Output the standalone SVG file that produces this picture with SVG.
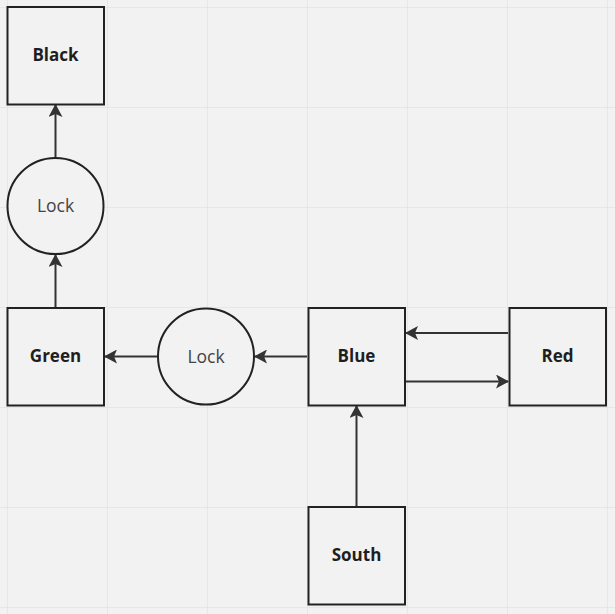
<svg xmlns="http://www.w3.org/2000/svg" width="615" height="614" viewBox="0 0 615 614">
<defs>
<pattern id="grid" x="7" y="7" width="100" height="100" patternUnits="userSpaceOnUse">
<path d="M0 0H100M0 0V100" fill="none" stroke="#e3e3e3" stroke-width="1.5"/>
</pattern>
<marker id="ah" viewBox="0 0 14 14" refX="12" refY="7" markerWidth="14" markerHeight="14" markerUnits="userSpaceOnUse" orient="auto">
<path d="M0 0L13 7L0 14L3 7Z" fill="#333"/>
</marker>
</defs>
<style>
.box{fill:#f2f2f2;stroke:#222;stroke-width:2}
.lbl{font-family:"Open Sans",sans-serif;font-size:17px;font-weight:bold;fill:#1e1e1e;text-anchor:middle;dominant-baseline:central}
.lck{font-family:"Open Sans",sans-serif;font-size:17.5px;fill:#444;text-anchor:middle;dominant-baseline:central}
.con{stroke:#333;stroke-width:2;fill:none;marker-end:url(#ah)}
</style>
<rect width="615" height="614" fill="#f2f2f2"/>
<rect width="615" height="614" fill="url(#grid)"/>
<g id="connectors">
<line class="con" x1="55.5" y1="307" x2="55.5" y2="255"/>
<line class="con" x1="55.5" y1="157" x2="55.5" y2="105"/>
<line class="con" x1="307" y1="356.5" x2="255" y2="356.5"/>
<line class="con" x1="157" y1="356.5" x2="105" y2="356.5"/>
<line class="con" x1="508" y1="333" x2="406" y2="333"/>
<line class="con" x1="406" y1="381.5" x2="508" y2="381.5"/>
<line class="con" x1="356.5" y1="506" x2="356.5" y2="406"/>
</g>
<g id="black"><rect class="box" x="7.5" y="7" width="96.5" height="97.5"/><text class="lbl" x="55.5" y="54">Black</text></g>
<g id="lock1"><circle class="box" cx="55.5" cy="206" r="48"/><text class="lck" x="55.5" y="204.5">Lock</text></g>
<g id="green"><rect class="box" x="7.5" y="308" width="96.5" height="97.5"/><text class="lbl" x="55.5" y="355">Green</text></g>
<g id="lock2"><circle class="box" cx="206" cy="356.5" r="48"/><text class="lck" x="206" y="355.5">Lock</text></g>
<g id="blue"><rect class="box" x="308.5" y="308" width="96.5" height="97.5"/><text class="lbl" x="356.5" y="355">Blue</text></g>
<g id="red"><rect class="box" x="509.5" y="308" width="96.5" height="97.5"/><text class="lbl" x="557.5" y="355">Red</text></g>
<g id="south"><rect class="box" x="308.5" y="507" width="96.5" height="97.5"/><text class="lbl" x="356.5" y="554">South</text></g>
</svg>
